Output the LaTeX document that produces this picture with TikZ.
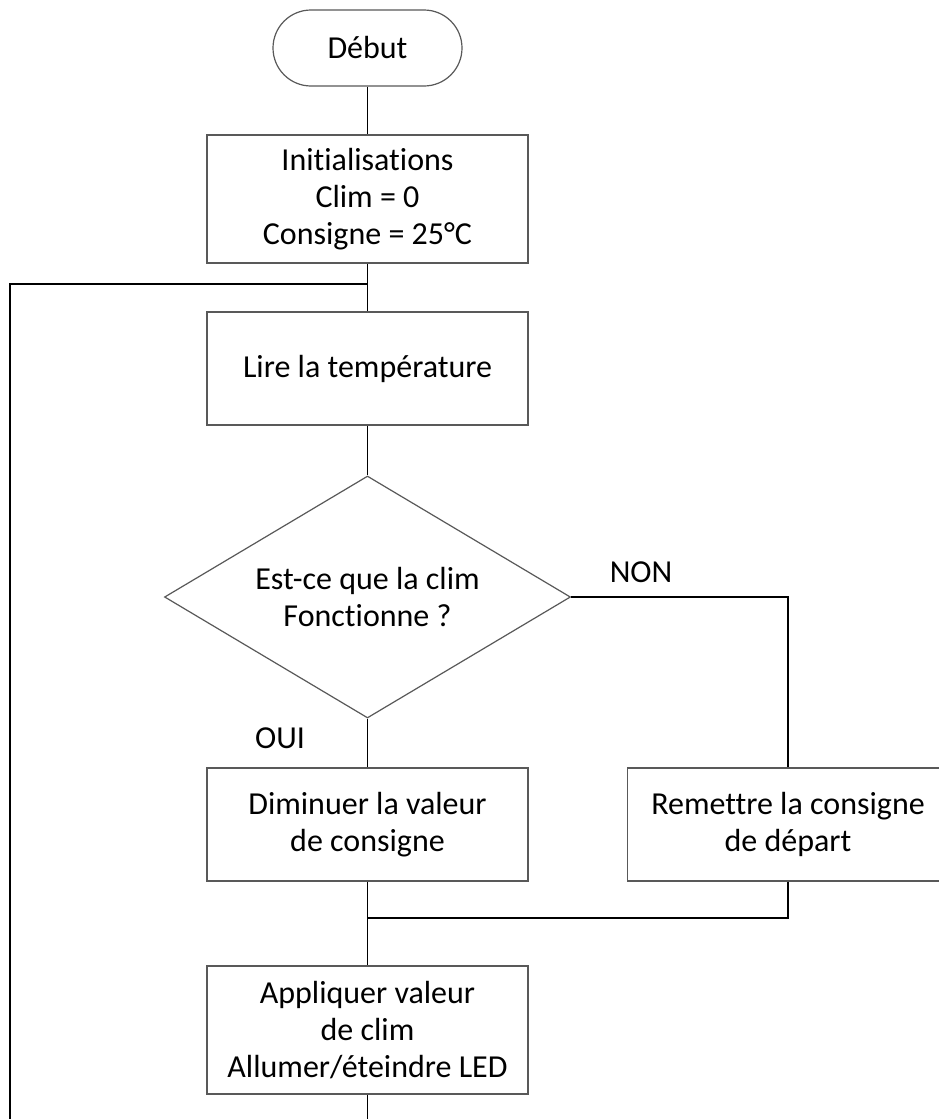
\documentclass[tikz,border=0pt]{standalone}
\usepackage{fontspec}
\setmainfont[Ligatures={NoCommon}]{Carlito}
\usetikzlibrary{shapes.geometric}
\begin{document}
\begin{tikzpicture}[x=1pt,y=-1pt,
  every node/.style={font=\fontsize{32}{37}\selectfont, align=center, text=black},
  boxst/.style={draw=black!65, line width=1.2pt, rectangle, minimum width=321pt, inner sep=0pt},
  termst/.style={draw=black!65, line width=1.2pt, rectangle, rounded corners=38pt, minimum width=189pt, minimum height=76pt, inner sep=0pt},
  decst/.style={draw=black!65, line width=1.2pt, diamond, aspect=2, minimum width=406pt, minimum height=242pt, inner sep=0pt},
  link/.style={draw=black, line width=1.8pt},
  lbl/.style={inner sep=0pt}]
\clip (0,0) rectangle (939,1119);
\fill[white] (0,0) rectangle (939,1119);
\node[termst] (debut) at (367.5,48) {Début};
\node[boxst, minimum height=128pt] (init) at (367.5,199) {Initialisations\\Clim = 0\\Consigne = 25°C};
\node[boxst, minimum height=113pt] (lire) at (367.5,368.5) {Lire la température};
\node[decst] (dec) at (367.5,597) {Est-ce que la clim\\Fonctionne ?};
\node[boxst, minimum height=113pt] (dim) at (367.5,824.5) {Diminuer la valeur\\de consigne};
\node[boxst, minimum height=113pt] (rem) at (788,824.5) {Remettre la consigne\\de départ};
\node[boxst, minimum height=128pt] (app) at (367.5,1030) {Appliquer valeur\\de clim\\Allumer/éteindre LED};
\node[lbl] (non) at (641,572) {NON};
\node[lbl] (oui) at (280,738) {OUI};
\coordinate (j) at (367.5,284);
\coordinate (m) at (367.5,918);
\coordinate (lb) at (10,1180);
\draw[link] (debut.south) -- (init.north);
\draw[link] (init.south) -- (lire.north);
\draw[link] (lire.south) -- (dec.north);
\draw[link] (dec.south) -- (dim.north);
\draw[link] (dec.east) -| (rem.north);
\draw[link] (rem.south) |- (m);
\draw[link] (dim.south) -- (app.north);
\draw[link] (app.south) |- (lb) |- (j);
\end{tikzpicture}
\end{document}
